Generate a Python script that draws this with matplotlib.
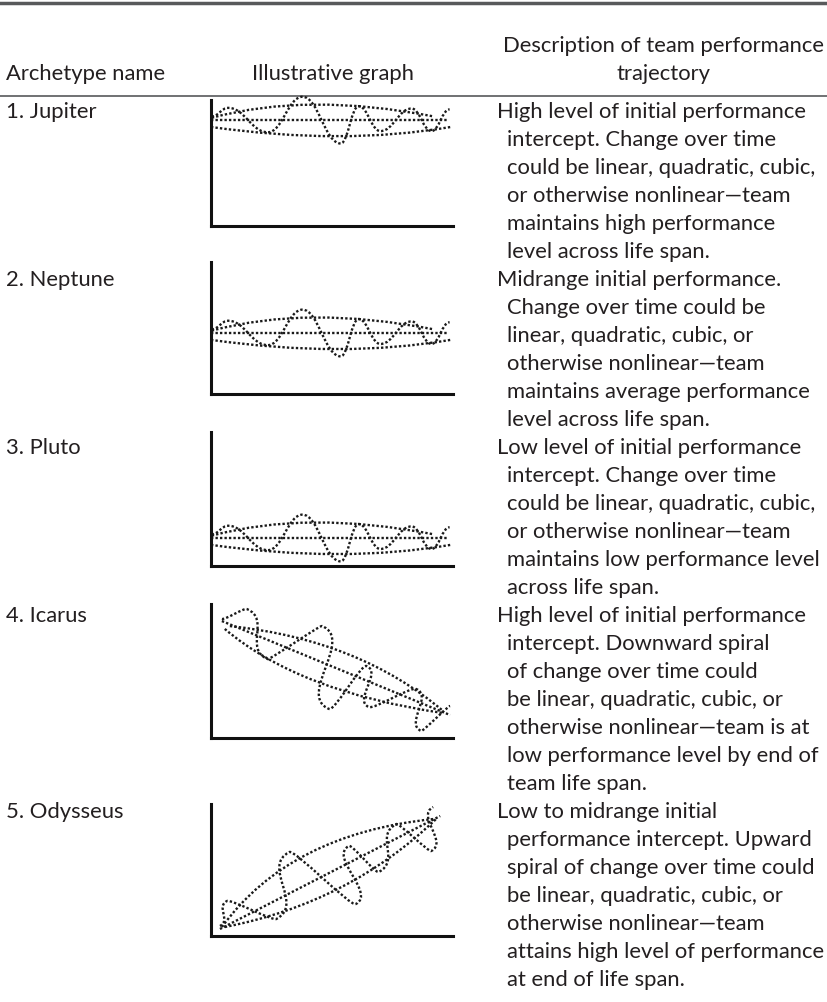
import matplotlib
matplotlib.use("Agg")
import matplotlib.pyplot as plt
from matplotlib.path import Path
from matplotlib.patches import PathPatch
import numpy as np

# table text
names = ["1. Jupiter", "2. Neptune", "3. Pluto", "4. Icarus", "5. Odysseus"]
descriptions = [
    ["High level of initial performance", "intercept. Change over time",
     "could be linear, quadratic, cubic,", "or otherwise nonlinear\u2014team",
     "maintains high performance", "level across life span."],
    ["Midrange initial performance.", "Change over time could be",
     "linear, quadratic, cubic, or", "otherwise nonlinear\u2014team",
     "maintains average performance", "level across life span."],
    ["Low level of initial performance", "intercept. Change over time",
     "could be linear, quadratic, cubic,", "or otherwise nonlinear\u2014team",
     "maintains low performance level", "across life span."],
    ["High level of initial performance", "intercept. Downward spiral",
     "of change over time could", "be linear, quadratic, cubic, or",
     "otherwise nonlinear\u2014team is at", "low performance level by end of",
     "team life span."],
    ["Low to midrange initial", "performance intercept. Upward",
     "spiral of change over time could", "be linear, quadratic, cubic, or",
     "otherwise nonlinear\u2014team", "attains high level of performance",
     "at end of life span."],
]

# flat archetypes (Jupiter, Neptune, Pluto): shared shape, offsets from the level
flat_levels = [80, 46, 21]
flat_line_x = [0, 98]
flat_line_dy = [0, 0]
flat_upper_x = [0.3, 43, 92]
flat_upper_dy = [2, 12, 3]
flat_lower_x = [0, 52, 99]
flat_lower_dy = [-5, -12, -5]
flat_wave_x = [0.3, 7.1, 23.5, 37.8, 53.6, 61, 70, 82.9, 91.1, 98.6]
flat_wave_dy = [3, 9.5, -9, 17.9, -17.5, 10.8, -8.1, 9, -8.1, 8.3]

# Icarus (downward spiral)
icarus_line_x = [4.5, 98.8]
icarus_line_y = [88.6, 17.4]
icarus_upper_x = [7.8, 56.5, 95.9]
icarus_upper_y = [84.8, 63.6, 20.5]
icarus_lower_x = [5.7, 43.6, 95.9]
icarus_lower_y = [82.6, 42.8, 18.9]
icarus_wave_x = [4.5, 14.8, 23.4, 45.9, 48.8, 64.3, 65.2, 84.8, 86.9, 98.8]
icarus_wave_y = [90.2, 97.7, 59.8, 84.8, 22.0, 54.5, 23.5, 37.1, 5.3, 24.2]

# Odysseus (upward spiral)
odys_line_x = [3.7, 94.7]
odys_line_y = [5.3, 90.9]
odys_upper_x = [4.5, 40.3, 91.8]
odys_upper_y = [6.8, 62.5, 88.6]
odys_lower_x = [5.7, 53.2, 93.0]
odys_lower_y = [6.8, 36.4, 88.6]
odys_wave_x = [3.7, 6.6, 27.0, 32.4, 59.8, 57.0, 69.3, 76.6, 91.0, 91.8]
odys_wave_y = [7.6, 26.5, 12.9, 63.6, 24.2, 68.2, 48.5, 84.8, 64.4, 97.7]

W, H = 828, 1003
fig = plt.figure(figsize=(W / 100, H / 100), dpi=100)
plt.rcParams['font.family'] = ['Lato', 'DejaVu Sans']
txt_color = '#231f20'
fs = 15.8

# overlay axes in pixel coordinates for text and rules
bg = fig.add_axes([0, 0, 1, 1])
bg.set_xlim(0, W)
bg.set_ylim(H, 0)
bg.axis('off')

bg.plot([0, W], [4, 4], color='#58595b', lw=2.5)
bg.plot([0, W], [97, 97], color='#58595b', lw=1.2)

desc_x = 497
indent = 10
line_h = 28
bg.text(6, 74, "Archetype name", fontsize=fs, color=txt_color, va='center')
bg.text(333, 74, "Illustrative graph", fontsize=fs, color=txt_color, va='center', ha='center')
bg.text(664, 46, "Description of team performance", fontsize=fs, color=txt_color,
        va='center', ha='center')
bg.text(664, 74, "trajectory", fontsize=fs, color=txt_color, va='center', ha='center')

row_start = [112, 280, 448, 616, 812]
for name, lines, y0 in zip(names, descriptions, row_start):
    bg.text(6, y0, name, fontsize=fs, color=txt_color, va='center')
    for i, ln in enumerate(lines):
        bg.text(desc_x + (indent if i else 0), y0 + i * line_h, ln, fontsize=fs,
                color=txt_color, va='center')

# graph boxes in pixels: left, right, top, bottom
gx0, gx1 = 211, 453
box_top = [101, 263, 433, 605, 805]
box_bot = [227, 395, 567, 739, 937]
unit = 1.32  # pixels per y unit


def make_axes(top, bot):
    ax = fig.add_axes([gx0 / W, 1 - bot / H, (gx1 - gx0) / W, (bot - top) / H])
    ax.set_xlim(0, 100)
    ax.set_ylim(0, (bot - top) / unit)
    for s in ['top', 'right']:
        ax.spines[s].set_visible(False)
    for s in ['left', 'bottom']:
        ax.spines[s].set_linewidth(2.2)
        ax.spines[s].set_color('#111111')
    ax.set_xticks([])
    ax.set_yticks([])
    ax.patch.set_alpha(0)
    return ax


dot_style = dict(color='#1a1a1a', lw=1.7, linestyle=(0, (1, 0.9)))


def draw_line(ax, xs, ys):
    ax.plot(xs, ys, **dot_style, clip_on=False)


def draw_arch(ax, xs, ys):
    # quadratic bezier through start, mid (t=0.5) and end
    p0 = np.array([xs[0], ys[0]])
    pm = np.array([xs[1], ys[1]])
    p2 = np.array([xs[2], ys[2]])
    c = 2 * pm - (p0 + p2) / 2
    path = Path([p0, c, p2], [Path.MOVETO, Path.CURVE3, Path.CURVE3])
    ax.add_patch(PathPatch(path, fill=False, clip_on=False, **dot_style))


def draw_wave(ax, xs, ys, direction):
    # cubic bezier through the extrema, tangent along the trend direction
    d = np.array(direction, float)
    d = d / np.hypot(*d)
    verts = [(xs[0], ys[0])]
    codes = [Path.MOVETO]
    for i in range(len(xs) - 1):
        p = np.array([xs[i], ys[i]])
        q = np.array([xs[i + 1], ys[i + 1]])
        proj = abs(np.dot(q - p, d))
        verts += [p + 0.42 * proj * d, q - 0.42 * proj * d, q]
        codes += [Path.CURVE4] * 3
    ax.add_patch(PathPatch(Path(verts, codes), fill=False, clip_on=False, **dot_style))


for k in range(3):
    ax = make_axes(box_top[k], box_bot[k])
    lv = flat_levels[k]
    draw_line(ax, flat_line_x, [lv + v for v in flat_line_dy])
    draw_arch(ax, flat_upper_x, [lv + v for v in flat_upper_dy])
    draw_arch(ax, flat_lower_x, [lv + v for v in flat_lower_dy])
    draw_wave(ax, flat_wave_x, [lv + v for v in flat_wave_dy], (1, 0))

ax = make_axes(box_top[3], box_bot[3])
draw_line(ax, icarus_line_x, icarus_line_y)
draw_arch(ax, icarus_upper_x, icarus_upper_y)
draw_arch(ax, icarus_lower_x, icarus_lower_y)
draw_wave(ax, icarus_wave_x, icarus_wave_y,
          (icarus_line_x[1] - icarus_line_x[0], icarus_line_y[1] - icarus_line_y[0]))

ax = make_axes(box_top[4], box_bot[4])
draw_line(ax, odys_line_x, odys_line_y)
draw_arch(ax, odys_upper_x, odys_upper_y)
draw_arch(ax, odys_lower_x, odys_lower_y)
draw_wave(ax, odys_wave_x, odys_wave_y,
          (odys_line_x[1] - odys_line_x[0], odys_line_y[1] - odys_line_y[0]))

fig.savefig('out.png', dpi=100)
